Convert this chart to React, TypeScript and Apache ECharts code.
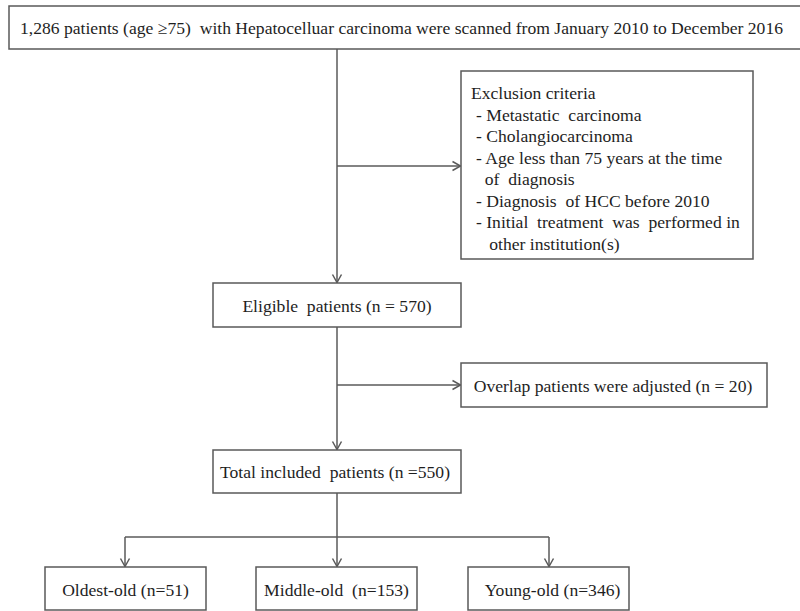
import React, { useEffect, useRef } from "react";
import * as echarts from "echarts";

// ---- Data (texts of the flow chart) ----
const screenedLabel =
  "1,286 patients (age \u226575)  with Hepatocelluar carcinoma were scanned from January 2010 to December 2016";
const exclusionTitle = "Exclusion criteria";
const exclusionItems = [
  "- Metastatic  carcinoma",
  "- Cholangiocarcinoma",
  "- Age less than 75 years at the time",
  "  of  diagnosis",
  "- Diagnosis  of HCC before 2010",
  "- Initial  treatment  was  performed in",
  "   other institution(s)",
];
const eligibleLabel = "Eligible  patients (n = 570)";
const overlapLabel = "Overlap patients were adjusted (n = 20)";
const totalLabel = "Total included  patients (n =550)";
const groupLabels = ["Oldest-old (n=51)", "Middle-old  (n=153)", "Young-old (n=346)"];

// ---- Layout (pixels) ----
const FONT = "'Liberation Serif', 'Times New Roman', serif";
const FS = 17.6;
const LINE = "#5a5a5a";
const TEXT = "#1e1e1e";
const LW = 1.5;

type Box = { x: number; y: number; w: number; h: number };
const topBox: Box = { x: 9, y: 6, w: 800, h: 43 };
const exclBox: Box = { x: 461, y: 71, w: 292, h: 188 };
const eligBox: Box = { x: 213, y: 283, w: 248, h: 44 };
const overBox: Box = { x: 461, y: 363, w: 306, h: 44 };
const totalBox: Box = { x: 213, y: 450, w: 248, h: 43 };
const groupBoxes: Box[] = [
  { x: 45, y: 567, w: 161, h: 43 },
  { x: 256, y: 567, w: 161, h: 43 },
  { x: 468, y: 567, w: 161, h: 43 },
];
const spineX = 337;
const branchY = 537;
const branchXs = [125, 337, 549];

function rect(b: Box) {
  return {
    type: "rect",
    shape: { x: b.x, y: b.y, width: b.w, height: b.h },
    style: { fill: "#fff", stroke: LINE, lineWidth: LW },
  };
}
function label(text: string, x: number, y: number, align = "center", size = FS) {
  return {
    type: "text",
    x,
    y,
    style: {
      text,
      fill: TEXT,
      font: `${size}px ${FONT}`,
      align,
      verticalAlign: "middle",
    } as any,
  };
}
function line(x1: number, y1: number, x2: number, y2: number) {
  return {
    type: "line",
    shape: { x1, y1, x2, y2 },
    style: { stroke: LINE, lineWidth: LW },
  };
}
function arrowDown(x: number, y: number) {
  return {
    type: "polyline",
    shape: { points: [[x - 4.5, y - 8], [x, y], [x + 4.5, y - 8]] },
    style: { stroke: LINE, lineWidth: LW, fill: "none" },
  };
}
function arrowRight(x: number, y: number) {
  return {
    type: "polyline",
    shape: { points: [[x - 8, y - 4.5], [x, y], [x - 8, y + 4.5]] },
    style: { stroke: LINE, lineWidth: LW, fill: "none" },
  };
}

export default function App() {
  const ref = useRef<HTMLDivElement>(null);
  useEffect(() => {
    if (!ref.current) return;
    const chart = echarts.init(ref.current, undefined, { renderer: "svg" });
    const els: any[] = [];

    // connectors
    els.push(line(spineX, topBox.y + topBox.h, spineX, eligBox.y - 0.5));
    els.push(arrowDown(spineX, eligBox.y - 0.5));
    const exclY = 166;
    els.push(line(spineX, exclY, exclBox.x - 0.5, exclY));
    els.push(arrowRight(exclBox.x - 0.5, exclY));
    els.push(line(spineX, eligBox.y + eligBox.h, spineX, totalBox.y - 0.5));
    els.push(arrowDown(spineX, totalBox.y - 0.5));
    const overY = 385;
    els.push(line(spineX, overY, overBox.x - 0.5, overY));
    els.push(arrowRight(overBox.x - 0.5, overY));
    els.push(line(spineX, totalBox.y + totalBox.h, spineX, branchY));
    els.push(line(branchXs[0], branchY, branchXs[2], branchY));
    branchXs.forEach((bx, i) => {
      els.push(line(bx, branchY, bx, groupBoxes[i].y - 0.5));
      els.push(arrowDown(bx, groupBoxes[i].y - 0.5));
    });

    // boxes
    els.push(rect(topBox));
    els.push(label(screenedLabel, 20, 27.5, "left"));

    els.push(rect(exclBox));
    els.push(label(exclusionTitle, 471, 93, "left"));
    exclusionItems.forEach((t, i) => {
      els.push(label(t, 476, 114.5 + i * 21.5, "left"));
    });

    els.push(rect(eligBox));
    els.push(label(eligibleLabel, eligBox.x + eligBox.w / 2, 306));
    els.push(rect(overBox));
    els.push(label(overlapLabel, overBox.x + overBox.w / 2 - 1, 386));
    els.push(rect(totalBox));
    els.push(label(totalLabel, totalBox.x + totalBox.w / 2 - 2, 472));
    groupBoxes.forEach((b, i) => {
      els.push(rect(b));
      els.push(label(groupLabels[i], b.x + b.w / 2 + (i === 2 ? 4 : 0), 590));
    });

    chart.setOption({
      animation: false,
      backgroundColor: "#ffffff",
      graphic: { elements: els },
    });
    return () => chart.dispose();
  }, []);
  return (
    <div
      ref={ref}
      style={{ position: "fixed", left: 0, top: 0, width: 800, height: 611, background: "#fff" }}
    />
  );
}
